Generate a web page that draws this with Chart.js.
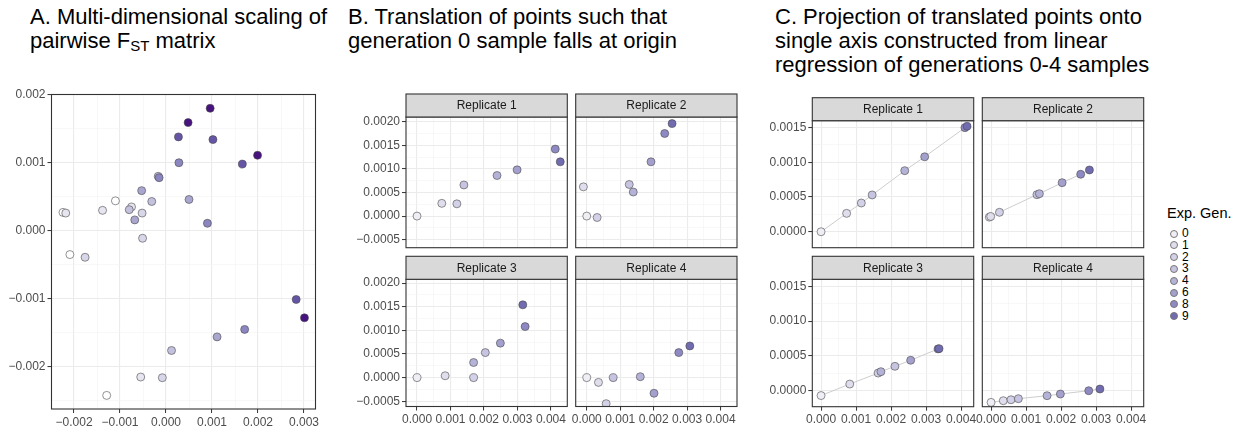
<!DOCTYPE html>
<html>
<head>
<meta charset="utf-8">
<script src="https://cdn.jsdelivr.net/npm/chart.js@4/dist/chart.umd.min.js"></script>
<style>
  body { margin: 0; width: 1238px; height: 432px; background: #fff; position: relative; overflow: hidden;
         font-family: "Liberation Sans", Arial, Helvetica, sans-serif; }
  canvas { position: absolute; }
  .title { position: absolute; top: 5px; font-size: 22px; line-height: 24px; color: #000; white-space: nowrap; }
  .title sub { font-size: 15px; vertical-align: -3px; line-height: 0; }
  .lg { position: absolute; color: #000; white-space: nowrap; }
  .key { position: absolute; width: 6px; height: 6px; border-radius: 50%; border: 0.7px solid #777; }
</style>
</head>
<body>
<div class="title" style="left:30px">A. Multi-dimensional scaling of<br>pairwise F<sub>ST</sub> matrix</div>
<div class="title" style="left:348px">B. Translation of points such that<br>generation 0 sample falls at origin</div>
<div class="title" style="left:775px">C. Projection of translated points onto<br>single axis constructed from linear<br>regression of generations 0-4 samples</div>
<script>
const GENS = [0, 1, 2, 3, 4, 6, 8, 9];
const REPLICATES = ['Replicate 1', 'Replicate 2', 'Replicate 3', 'Replicate 4'];

// A: MDS coordinates, one row per replicate, columns in GENS order
const mdsX = [
  [-0.00129, -0.00055, -0.00008, 0.00012, 0.00111, 0.00171, 0.00283, 0.00301],
  [-0.00209, -0.00218, -0.00176, -0.00080, -0.00068, -0.00015, 0.00027, 0.00048],
  [-0.00224, -0.00138, -0.00052, -0.00017, -0.00053, 0.00028, 0.00102, 0.00096],
  [-0.00110, -0.00075, -0.00051, -0.00031, 0.00050, 0.00090, 0.00166, 0.00199],
];
const mdsY = [
  [-0.00242, -0.00215, -0.00216, -0.00176, -0.00156, -0.00145, -0.00101, -0.00128],
  [-0.00035, 0.00026, -0.00039, 0.00031, 0.00016, 0.00078, 0.00138, 0.00159],
  [0.00027, 0.00030, 0.00026, 0.00080, 0.00059, 0.00100, 0.00134, 0.00180],
  [0.00044, 0.00035, -0.00011, 0.00043, 0.00046, 0.00011, 0.00098, 0.00111],
];

// B: same points shifted so generation 0 sits at the origin
const transX = [
  [0, 0.00074, 0.00119, 0.00140, 0.00239, 0.00299, 0.00413, 0.00428],
  [0, -0.00010, 0.00031, 0.00127, 0.00139, 0.00192, 0.00233, 0.00255],
  [0, 0.00084, 0.00169, 0.00204, 0.00169, 0.00249, 0.00323, 0.00316],
  [0, 0.00035, 0.00058, 0.00079, 0.00160, 0.00201, 0.00275, 0.00308],
];
const transY = [
  [0, 0.00027, 0.00026, 0.00066, 0.00086, 0.00098, 0.00142, 0.00115],
  [0, 0.00062, -0.00003, 0.00067, 0.00051, 0.00115, 0.00175, 0.00196],
  [0, 0.00004, 0.00000, 0.00053, 0.00032, 0.00073, 0.00108, 0.00154],
  [0, -0.00010, -0.00055, 0.00000, 0.00002, -0.00033, 0.00053, 0.00067],
];

// C: points projected onto the gen 0-4 regression line
const projX = [
  [0, 0.00073, 0.00115, 0.00146, 0.00239, 0.00296, 0.00411, 0.00417],
  [-0.00005, -0.00001, 0.00024, 0.00131, 0.00138, 0.00203, 0.00256, 0.00281],
  [0, 0.00082, 0.00163, 0.00211, 0.00171, 0.00256, 0.00334, 0.00337],
  [0, 0.00035, 0.00057, 0.00078, 0.00160, 0.00198, 0.00279, 0.00311],
];
const projY = [
  [0, 0.000265, 0.000414, 0.00053, 0.00088, 0.00108, 0.00150, 0.00152],
  [0.00021, 0.00022, 0.00028, 0.000534, 0.000548, 0.000707, 0.000828, 0.00089],
  [-0.00007, 0.000095, 0.000253, 0.00035, 0.000273, 0.000437, 0.00060, 0.000604],
  [-0.000168, -0.000144, -0.00013, -0.000115, -0.000072, -0.000048, 0, 0.000024],
];

// tick breaks
const A_X_TICKS = [-0.002, -0.001, 0, 0.001, 0.002, 0.003];
const A_Y_TICKS = [-0.002, -0.001, 0, 0.001, 0.002];
const BC_X_TICKS = [0, 0.001, 0.002, 0.003, 0.004];
const B_Y_TICKS = [-0.0005, 0, 0.0005, 0.001, 0.0015, 0.002];
const C_Y_TICKS = [0, 0.0005, 0.001, 0.0015];

// fill colours per generation
const fillA = ['#ffffff', '#e6e5f0', '#d8d7ea', '#c3c1de', '#a9a6cf', '#8b86c0', '#6655a5', '#46137f'];
const fillBC = ['#efeef5', '#e0deed', '#d3d1e7', '#c6c4e0', '#b5b2d7', '#a4a0ce', '#8e89c2', '#716bb0'];

Chart.defaults.font.family = '"Liberation Sans", Arial, Helvetica, sans-serif';
Chart.defaults.font.size = 12;
Chart.defaults.color = '#4d4d4d';

const fmt = (v, d) => (v < 0 ? '\u2212' : '') + Math.abs(v).toFixed(d);

// major breaks plus ggplot-style minor breaks half way between
function withMinor(major, min, max) {
  const half = (major[1] - major[0]) / 2;
  const ticks = major.map(v => ({ value: v }));
  [major[0] - half, ...major.map(v => v + half)].forEach(v => {
    if (v > min && v < max) ticks.push({ value: v, minor: true });
  });
  return ticks.sort((a, b) => a.value - b.value);
}

function axis(range, major, decimals, showLabels, size, horizontal) {
  return {
    type: 'linear',
    min: range[0],
    max: range[1],
    afterBuildTicks: s => { s.ticks = withMinor(major, range[0], range[1]); },
    afterFit: s => { if (horizontal) s.height = size; else s.width = size; },
    border: { display: false },
    grid: {
      color: c => (c.tick && c.tick.minor ? '#f3f3f3' : '#ebebeb'),
      lineWidth: c => (c.tick && c.tick.minor ? 0.6 : 1.1),
      drawTicks: showLabels,
      tickLength: 4,
      tickWidth: 1,
      tickColor: c => (c.tick && c.tick.minor ? 'rgba(0,0,0,0)' : '#333333'),
    },
    ticks: {
      display: showLabels,
      autoSkip: false,
      maxRotation: 0,
      minRotation: 0,
      padding: 2,
      color: '#4d4d4d',
      font: { size: 12 },
      callback: (v, i, t) => (t[i].minor ? '' : fmt(v, decimals)),
    },
  };
}

// grey facet label above the panel
const stripPlugin = {
  id: 'strip',
  afterDraw(chart, args, opts) {
    if (!opts.text) return;
    const { ctx, chartArea: a } = chart;
    const h = 23;
    ctx.save();
    ctx.fillStyle = '#d9d9d9';
    ctx.fillRect(a.left, a.top - h, a.right - a.left, h);
    ctx.strokeStyle = '#333333';
    ctx.lineWidth = 1.1;
    ctx.strokeRect(a.left, a.top - h, a.right - a.left, h);
    ctx.fillStyle = '#1a1a1a';
    ctx.font = '12px "Liberation Sans", Arial, sans-serif';
    ctx.textAlign = 'center';
    ctx.textBaseline = 'middle';
    ctx.fillText(opts.text, (a.left + a.right) / 2, a.top - h / 2 + 0.5);
    ctx.restore();
  },
};

// panel border on top of the points
const boxPlugin = {
  id: 'panelBox',
  afterDatasetsDraw(chart) {
    const { ctx, chartArea: a } = chart;
    ctx.save();
    ctx.strokeStyle = '#333333';
    ctx.lineWidth = 1.1;
    ctx.strokeRect(a.left, a.top, a.right - a.left, a.bottom - a.top);
    ctx.restore();
  },
};

function pointSet(xs, ys, fills) {
  return {
    data: xs.map((x, i) => ({ x, y: ys[i] })),
    pointRadius: 4,
    pointHoverRadius: 4,
    pointBackgroundColor: GENS.map((g, i) => fills[i]),
    pointBorderColor: '#4a4a4a',
    pointBorderWidth: 0.6,
    order: 0,
  };
}

// box = plot area [left, top, right, bottom] in page pixels
function panel(box, cfg) {
  const left = Math.floor(box[0] - 62), top = Math.floor(box[1] - (cfg.strip ? 26 : 10));
  const right = Math.ceil(box[2] + 16), bottom = Math.ceil(box[3] + 26);
  const cv = document.createElement('canvas');
  cv.width = right - left;
  cv.height = bottom - top;
  cv.style.left = left + 'px';
  cv.style.top = top + 'px';
  document.body.appendChild(cv);
  new Chart(cv, {
    type: 'scatter',
    data: { datasets: cfg.datasets },
    options: {
      responsive: false,
      animation: false,
      events: [],
      layout: { padding: { left: 0, top: box[1] - top, right: right - box[2], bottom: 0 } },
      scales: {
        x: axis(cfg.xRange, cfg.xTicks, 3, cfg.xLabels, bottom - box[3], true),
        y: axis(cfg.yRange, cfg.yTicks, cfg.yDec, cfg.yLabels, box[0] - left, false),
      },
      plugins: { legend: { display: false }, tooltip: { enabled: false }, strip: { text: cfg.strip } },
    },
    plugins: [stripPlugin, boxPlugin],
  });
}

// A
panel([51.5, 94.5, 315.5, 409], {
  datasets: REPLICATES.map((r, k) => pointSet(mdsX[k], mdsY[k], fillA)),
  xRange: [-0.00249, 0.00325], yRange: [-0.00262, 0.002003],
  xTicks: A_X_TICKS, yTicks: A_Y_TICKS, yDec: 3, xLabels: true, yLabels: true,
});

// B and C facets
const colsB = [[406, 567.3], [575.7, 737]];
const rowsB = [[117, 247.7, [-0.00067, 0.0021]], [279.3, 406.5, [-0.00061, 0.00208]]];
const colsC = [[812.3, 973.7], [982.3, 1143.7]];
const rowsC = [[120.7, 247.7], [279.3, 406.7]];

REPLICATES.forEach((name, k) => {
  const c = k % 2, r = Math.floor(k / 2);
  panel([colsB[c][0], rowsB[r][0], colsB[c][1], rowsB[r][1]], {
    datasets: [pointSet(transX[k], transY[k], fillBC)],
    xRange: [-0.00033, 0.00449], yRange: rowsB[r][2],
    xTicks: BC_X_TICKS, yTicks: B_Y_TICKS, yDec: 4,
    xLabels: r === 1, yLabels: c === 0, strip: name,
  });

  const line = projX[k].map((x, i) => ({ x, y: projY[k][i] })).sort((a, b) => a.x - b.x);
  panel([colsC[c][0], rowsC[r][0], colsC[c][1], rowsC[r][1]], {
    datasets: [
      pointSet(projX[k], projY[k], fillBC),
      { data: line, showLine: true, pointRadius: 0, borderColor: '#cdcdcd', borderWidth: 1, order: 1 },
    ],
    xRange: [-0.00025, 0.00436], yRange: [-0.00023, 0.0016],
    xTicks: BC_X_TICKS, yTicks: C_Y_TICKS, yDec: 4,
    xLabels: r === 1, yLabels: c === 0, strip: name,
  });
});

// generation legend
const title = document.createElement('div');
title.className = 'lg';
title.style.cssText = 'left:1167px;top:205px;font-size:14.5px;line-height:16px';
title.textContent = 'Exp. Gen.';
document.body.appendChild(title);
GENS.forEach((g, i) => {
  const cy = 233 + i * 11.8;
  const key = document.createElement('span');
  key.className = 'key';
  key.style.left = (1169.5) + 'px';
  key.style.top = (cy - 3.5) + 'px';
  key.style.background = fillBC[i];
  document.body.appendChild(key);
  const lab = document.createElement('div');
  lab.className = 'lg';
  lab.style.cssText = `left:1182px;top:${cy - 7}px;font-size:12px;line-height:14px`;
  lab.textContent = g;
  document.body.appendChild(lab);
});
</script>
</body>
</html>
